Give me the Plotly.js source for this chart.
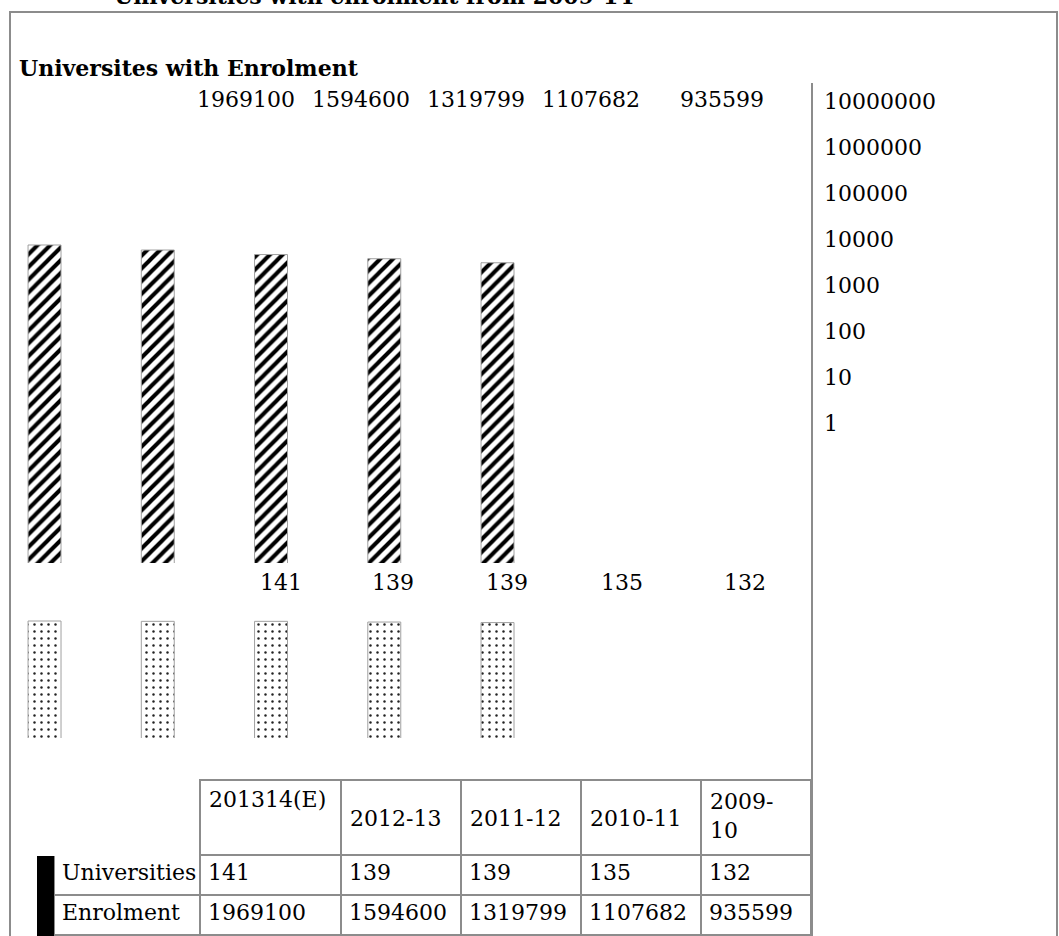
<!DOCTYPE html>
<html>
<head>
<meta charset="utf-8">
<script src="https://cdn.plot.ly/plotly-3.0.1.min.js"></script>
<style>html,body{margin:0;padding:0;background:#fff}#chart{width:1059px;height:936px}</style>
</head>
<body>
<div id="chart"></div>
<script>
// ---- data ----
const categories = ['201314(E)', '2012-13', '2011-12', '2010-11', '2009-10'];
const universities = [141, 139, 139, 135, 132];
const enrolment = [1969100, 1594600, 1319799, 1107682, 935599];
const seriesNames = ['Universities', 'Enrolment'];
const scaleTicks = [1, 10, 100, 1000, 10000, 100000, 1000000, 10000000];
const scaleTickLabels = ['1', '10', '100', '1000', '10000', '100000', '1000000', '10000000'];
const mainTitle = 'Universities with enrolment from 2009-14';
const chartTitle = 'Universites with Enrolment';

// ---- layout helpers (pixels -> paper) ----
const W = 1059, H = 936;
const px = x => x / W;
const py = y => (H - y) / H;
const FONT = 'DejaVu Serif';
const GRAY = '#8c8c8c';

// label positions (layout, px)
const enrolLabelX = [246, 361, 476, 591, 722];
const univLabelX = [281, 393, 507, 622, 745];
const colEdges = [54, 200, 341, 461, 581, 701, 811];
const headerTextY = [799, 818, 818, 818, 816];
const headerWrap = [false, false, false, false, true];

const xRange = [-0.305, 6.777];

const traces = [
  {
    type: 'bar', name: seriesNames[1], x: categories, y: enrolment,
    xaxis: 'x', yaxis: 'y', width: 0.291, hoverinfo: 'skip',
    marker: { color: '#fff', line: { color: '#a0a0a0', width: 1 },
      pattern: { shape: '/', fgcolor: '#000', bgcolor: '#fff', size: 9, solidity: 0.45 } }
  },
  {
    type: 'bar', name: seriesNames[0], x: categories, y: universities,
    xaxis: 'x2', yaxis: 'y2', width: 0.291, hoverinfo: 'skip',
    marker: { color: '#fff', line: { color: '#a0a0a0', width: 1 },
      pattern: { shape: '.', fgcolor: '#222', bgcolor: '#fff', size: 7, solidity: 0.1 } }
  },
  {
    type: 'scatter', mode: 'markers', x: [categories[0]], y: [scaleTicks[0]],
    xaxis: 'x', yaxis: 'y3', marker: { opacity: 0 }, hoverinfo: 'skip', showlegend: false
  },
  {
    type: 'table',
    domain: { x: [px(colEdges[0]), px(colEdges[6])], y: [0, py(780)] },
    columnwidth: colEdges.slice(1).map((e, i) => e - colEdges[i]),
    header: {
      values: [''].concat(categories.map(() => '')),
      height: 75, align: 'left',
      line: { color: ['#fff'].concat(categories.map(() => GRAY)), width: 2 },
      fill: { color: '#fff' },
      font: { family: FONT, size: 22, color: '#000' }
    },
    cells: {
      values: [seriesNames].concat(categories.map((c, i) => [universities[i], enrolment[i]])),
      height: 40, align: 'left',
      line: { color: GRAY, width: 2 },
      fill: { color: '#fff' },
      font: { family: FONT, size: 22, color: '#000' }
    }
  }
];

const annotations = [
  { text: '<b>' + mainTitle + '</b>', x: px(112), y: py(11), xanchor: 'left', yanchor: 'bottom' },
  { text: '<b>' + chartTitle + '</b>', x: px(17), y: py(68), xanchor: 'left', yanchor: 'middle' }
].concat(
  enrolment.map((v, i) => ({ text: String(v), x: px(enrolLabelX[i]), y: py(100), xanchor: 'center', yanchor: 'middle' })),
  universities.map((v, i) => ({ text: String(v), x: px(univLabelX[i]), y: py(582), xanchor: 'center', yanchor: 'middle' })),
  categories.map((c, i) => ({ text: headerWrap[i] ? c.replace('-', '-<br>') : c, align: 'left',
    x: px(colEdges[i + 1] + 7), y: py(headerTextY[i]), xanchor: 'left', yanchor: 'middle' }))
).map(a => Object.assign({ xref: 'paper', yref: 'paper', showarrow: false,
  font: { family: FONT, size: 22, color: '#000' } }, a));

const layout = {
  width: W, height: H,
  margin: { l: 0, r: 0, t: 0, b: 0 },
  paper_bgcolor: '#fff', plot_bgcolor: 'rgba(0,0,0,0)',
  showlegend: false, barmode: 'overlay',
  font: { family: FONT, size: 22, color: '#000' },
  xaxis: { domain: [px(10), px(812)], type: 'category', range: xRange, visible: false, anchor: 'y', fixedrange: true },
  xaxis2: { domain: [px(10), px(812)], type: 'category', range: xRange, visible: false, anchor: 'y2', fixedrange: true },
  yaxis: { domain: [py(563), py(120)], type: 'log', range: [0.512, 8.567], visible: false, anchor: 'x' },
  yaxis2: { domain: [py(738), py(600)], type: 'log', range: [0.022, 2.531], visible: false, anchor: 'x2' },
  yaxis3: {
    domain: [py(423), py(101)], type: 'log', range: [0, 7], anchor: 'x', side: 'right',
    tickmode: 'array', tickvals: scaleTicks, ticktext: scaleTickLabels,
    showline: false, showgrid: false, zeroline: false, ticks: '', ticklabelstandoff: 11,
    tickfont: { family: FONT, size: 22, color: '#000' }
  },
  annotations: annotations,
  shapes: [
    { type: 'rect', xref: 'paper', yref: 'paper', x0: px(10), x1: px(1057), y0: py(12), y1: py(945),
      line: { color: GRAY, width: 2 }, fillcolor: 'rgba(0,0,0,0)' },
    { type: 'line', xref: 'paper', yref: 'paper', x0: px(812), x1: px(812), y0: py(83), y1: py(945),
      line: { color: GRAY, width: 2 } },
    { type: 'rect', xref: 'paper', yref: 'paper', x0: px(37), x1: px(54), y0: py(856), y1: py(945),
      line: { width: 0 }, fillcolor: '#000' }
  ]
};

Plotly.newPlot('chart', traces, layout, { displayModeBar: false, staticPlot: true });
</script>
</body>
</html>
